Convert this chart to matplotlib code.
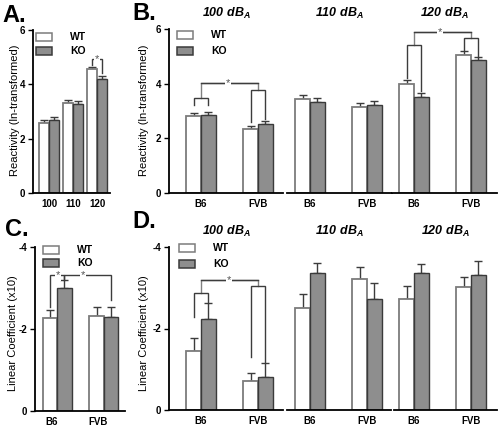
"""Figura de 4 paneles: reactividad y coeficiente lineal WT vs KO por intensidad (dBA)."""
import matplotlib
matplotlib.use("Agg")
import matplotlib.pyplot as plt
from matplotlib.patches import Rectangle
import numpy as np

plt.rcParams["font.family"] = ["Liberation Sans", "DejaVu Sans"]
plt.rcParams["mathtext.fontset"] = "custom"
plt.rcParams["mathtext.rm"] = "Liberation Sans:italic:bold"
plt.rcParams["mathtext.it"] = "Liberation Sans:italic:bold"
plt.rcParams["axes.unicode_minus"] = False

# ---- datos ----
levels = ["100", "110", "120"]
strains = ["B6", "FVB"]
titles = [r"$100\ dB_A$", r"$110\ dB_A$", r"$120\ dB_A$"]

# A: reactividad por intensidad
a_wt = [2.57, 3.33, 4.55]
a_wt_err = [0.10, 0.10, 0.10]
a_ko = [2.69, 3.28, 4.20]
a_ko_err = [0.09, 0.11, 0.10]

# B: reactividad por cepa dentro de cada intensidad
b_wt = [[2.82, 2.34], [3.44, 3.13], [4.00, 5.06]]
b_wt_err = [[0.12, 0.11], [0.16, 0.18], [0.14, 0.12]]
b_ko = [[2.85, 2.51], [3.32, 3.22], [3.53, 4.85]]
b_ko_err = [[0.13, 0.13], [0.17, 0.16], [0.14, 0.12]]

# C: coeficiente lineal por cepa
c_wt = [-2.26, -2.32]
c_wt_err = [0.20, 0.22]
c_ko = [-3.00, -2.30]
c_ko_err = [0.19, 0.24]

# D: coeficiente lineal por cepa dentro de cada intensidad
d_wt = [[-1.45, -0.71], [-2.51, -3.22], [-2.73, -3.02]]
d_wt_err = [[0.31, 0.21], [0.33, 0.29], [0.31, 0.25]]
d_ko = [[-2.24, -0.82], [-3.36, -2.73], [-3.37, -3.32]]
d_ko_err = [[0.39, 0.34], [0.25, 0.39], [0.22, 0.34]]

W, H = 501, 429
WT_EDGE = "#7c7c7c"
KO_FILL = "#8e8e8e"
KO_EDGE = "#3a3a3a"
LINE = "#3c3c3c"
STEM = "#808080"


def add_ax(fig, l, t, r, b):
    """Ejes a partir de coordenadas en píxeles (origen arriba-izquierda)."""
    return fig.add_axes([l / W, 1 - b / H, (r - l) / W, (b - t) / H])


def style(ax, left=True):
    for s in ["top", "right"]:
        ax.spines[s].set_visible(False)
    ax.spines["left"].set_visible(left)
    ax.spines["bottom"].set_linewidth(1.3)
    ax.spines["left"].set_linewidth(1.3)
    ax.tick_params(axis="x", length=0, pad=4, labelsize=7)
    ax.tick_params(axis="y", length=3.5, width=1, pad=2, labelsize=7, left=left, labelleft=left)
    for lab in ax.get_xticklabels() + ax.get_yticklabels():
        lab.set_fontweight("bold")


def pair(ax, wt, wt_err, ko, ko_err, width):
    x = np.arange(len(wt))
    wt, ko = np.array(wt), np.array(ko)
    ax.bar(x - width / 2, wt, width, facecolor="white", edgecolor=WT_EDGE, lw=1.3, zorder=2)
    ax.bar(x + width / 2, ko, width, facecolor=KO_FILL, edgecolor=KO_EDGE, lw=1.0, zorder=2)
    for xs, v, e in [(x - width / 2, wt, np.array(wt_err)), (x + width / 2, ko, np.array(ko_err))]:
        lo = np.where(v < 0, e, 0)
        hi = np.where(v >= 0, e, 0)
        ax.errorbar(xs, v, yerr=[lo, hi], fmt="none", ecolor=LINE, elinewidth=1,
                    capsize=3, capthick=1, zorder=1)
    return x


def bracket(ax, x1, x2, y1, y2, top, color=LINE):
    ax.plot([x1, x1, x2, x2], [y1, top, top, y2], color=color, lw=1, zorder=3,
            solid_joinstyle="miter")


def star(ax, x, y):
    ax.text(x, y, "*", ha="center", va="center", fontsize=8, color="#555555", zorder=4,
            bbox=dict(fc="white", ec="none", pad=0.6))


def legend(fig, x, y_wt, y_ko):
    for y, fc, ec, lab in [(y_wt, "white", WT_EDGE, "WT"), (y_ko, KO_FILL, KO_EDGE, "KO")]:
        fig.patches.append(Rectangle((x / W, 1 - (y + 8) / H), 16 / W, 8 / H, fc=fc, ec=ec,
                                     lw=1.1, transform=fig.transFigure))
        fig.text((x + 34) / W, 1 - (y + 4) / H, lab, fontsize=7.5, fontweight="bold",
                 va="center", ha="left")


fig = plt.figure(figsize=(W / 100, H / 100), dpi=100)

# ---- A ----
ax = add_ax(fig, 33, 30, 110, 193)
x = pair(ax, a_wt, a_wt_err, a_ko, a_ko_err, 0.40)
ax.set_xlim(-0.667, 2.54)
ax.set_ylim(0, 6)
ax.set_yticks([0, 2, 4, 6])
ax.set_xticks(x)
ax.set_xticklabels(levels)
bracket(ax, 2 - 0.2, 2 + 0.2, 4.72, 4.40, 4.92)
star(ax, 2, 4.92)
style(ax)
legend(fig, 36, 33, 47)
fig.text(15 / W, 1 - 110 / H, "Reactivity (ln-transformed)", rotation=90, fontsize=8,
         ha="center", va="center")
fig.text(2 / W, 1 - 16 / H, "A.", fontsize=17, fontweight="bold", va="center")

# ---- B ----
b_px = [(169, 283, 201), (287, 392, 310), (392, 497, 414)]
unit = 57.0
axes_b = []
for i, (l, r, c0) in enumerate(b_px):
    ax = add_ax(fig, l, 29, r, 193)
    x = pair(ax, b_wt[i], b_wt_err[i], b_ko[i], b_ko_err[i], 0.26)
    ax.set_xlim((l - c0) / unit, (r - c0) / unit)
    ax.set_ylim(0, 6)
    ax.set_yticks([0, 2, 4, 6])
    ax.set_xticks(x)
    ax.set_xticklabels(strains)
    style(ax, left=(i == 0))
    ax.set_title(titles[i], fontsize=9, pad=9)
    axes_b.append(ax)

ax = axes_b[0]
bracket(ax, -0.13, 0.13, 3.22, 3.22, 3.47)
bracket(ax, 1 - 0.13, 1 + 0.13, 2.58, 2.72, 3.77)
ax.plot([0, 0, 1, 1], [3.47, 4.02, 4.02, 3.77], color=STEM, lw=1, zorder=2.5)
ax.plot([0, 1], [4.02, 4.02], color=LINE, lw=1, zorder=3)
star(ax, 0.47, 4.02)
ax = axes_b[2]
bracket(ax, -0.13, 0.13, 4.20, 3.72, 5.42)
bracket(ax, 1 - 0.13, 1 + 0.13, 5.23, 4.98, 5.67)
ax.plot([0, 0, 1, 1], [5.42, 5.90, 5.90, 5.67], color=STEM, lw=1, zorder=2.5)
ax.plot([0, 1], [5.90, 5.90], color=LINE, lw=1, zorder=3)
star(ax, 0.45, 5.90)
legend(fig, 177, 31, 47)
fig.text(144 / W, 1 - 110 / H, "Reactivity (ln-transformed)", rotation=90, fontsize=8,
         ha="center", va="center")
fig.text(132 / W, 1 - 13 / H, "B.", fontsize=17, fontweight="bold", va="center")

# ---- C ----
ax = add_ax(fig, 35, 247, 125, 411)
x = pair(ax, c_wt, c_wt_err, c_ko, c_ko_err, 0.31)
ax.set_xlim(-0.47, 1.45)
ax.set_ylim(0, -4)
ax.set_yticks([-4, -2, 0])
ax.set_xticks(x - 0.12)
ax.set_xticklabels(strains)
bracket(ax, -0.155, 0.155, -2.54, -3.2, -3.32)
star(ax, 0.02, -3.32)
bracket(ax, 0.155, 1 + 0.155, -3.2, -2.7, -3.32)
star(ax, 0.55, -3.32)
style(ax)
legend(fig, 43, 246, 259)
fig.text(13 / W, 1 - 333 / H, "Linear Coefficient (x10)", rotation=90, fontsize=8,
         ha="center", va="center")
fig.text(5 / W, 1 - 229 / H, "C.", fontsize=17, fontweight="bold", va="center")

# ---- D ----
d_px = [(169, 283, 201), (287, 391, 310), (394, 497, 414)]
axes_d = []
for i, (l, r, c0) in enumerate(d_px):
    ax = add_ax(fig, l, 247, r, 410)
    x = pair(ax, d_wt[i], d_wt_err[i], d_ko[i], d_ko_err[i], 0.26)
    ax.set_xlim((l - c0) / unit, (r - c0) / unit)
    ax.set_ylim(0, -4)
    ax.set_yticks([-4, -2, 0])
    ax.set_xticks(x)
    ax.set_xticklabels(strains)
    style(ax, left=(i == 0))
    ax.set_title(titles[i], fontsize=9, pad=9)
    axes_d.append(ax)

ax = axes_d[0]
bracket(ax, -0.13, 0.13, -2.27, -2.63, -2.86)
bracket(ax, 1 - 0.13, 1 + 0.13, -1.31, -1.18, -3.04)
ax.plot([0, 0, 1, 1], [-2.86, -3.20, -3.20, -3.04], color=STEM, lw=1, zorder=2.5)
ax.plot([0, 1], [-3.20, -3.20], color=LINE, lw=1, zorder=3)
star(ax, 0.49, -3.20)
legend(fig, 179, 244, 260)
fig.text(144 / W, 1 - 333 / H, "Linear Coefficient (x10)", rotation=90, fontsize=8,
         ha="center", va="center")
fig.text(132 / W, 1 - 222 / H, "D.", fontsize=17, fontweight="bold", va="center")

fig.savefig("out.png", dpi=100)
